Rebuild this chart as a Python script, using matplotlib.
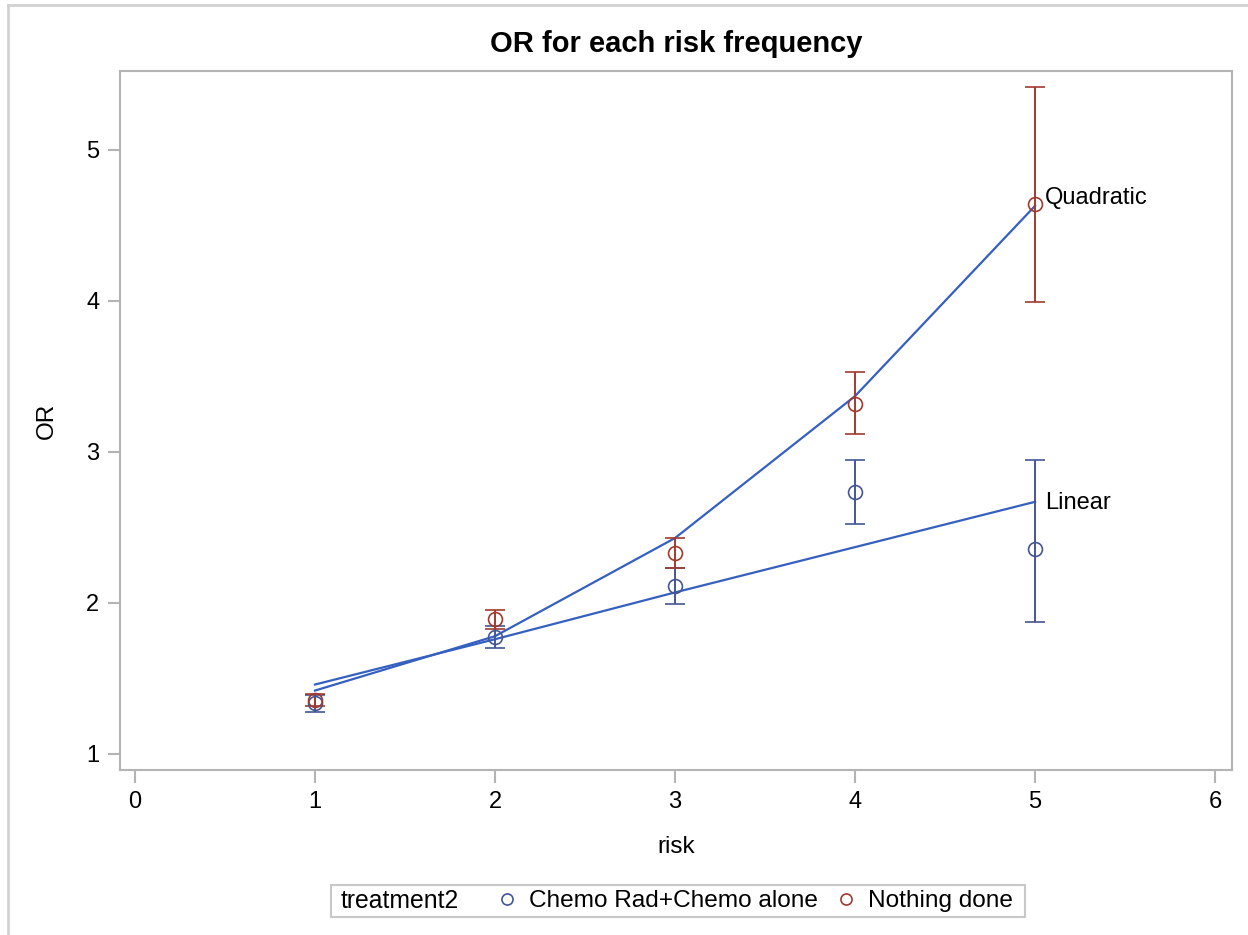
import matplotlib
matplotlib.use("Agg")
import matplotlib.pyplot as plt
from matplotlib.lines import Line2D
from matplotlib.patches import Rectangle

plt.rcParams["font.family"] = ["Liberation Sans", "DejaVu Sans"]

risk = [1, 2, 3, 4, 5]

# Chemo Rad+Chemo alone
or_chemo = [1.34, 1.773, 2.113, 2.733, 2.356]
lo_chemo = [1.28, 1.70, 1.993, 2.523, 1.876]
hi_chemo = [1.39, 1.848, 2.234, 2.948, 2.948]

# Nothing done
or_none = [1.358, 1.892, 2.333, 3.316, 4.645]
lo_none = [1.32, 1.826, 2.234, 3.121, 3.99]
hi_none = [1.397, 1.954, 2.432, 3.532, 5.42]

# fitted curves
fit_linear = [1.46, 1.76, 2.07, 2.37, 2.67]
fit_quad = [1.42, 1.78, 2.43, 3.37, 4.63]

BLUE = "#445694"
RED = "#A23A2E"
FIT = "#3560C0"
GRID = "#B4B4B4"

W, H = 1248, 935
fig = plt.figure(figsize=(W / 100, H / 100), dpi=100)

# page border (top and left only)
fig.add_artist(Line2D([8 / W, 1], [1 - 5 / H, 1 - 5 / H], color="#D2D2D2", lw=2))
fig.add_artist(Line2D([8 / W, 8 / W], [0, 1 - 5 / H], color="#D2D2D2", lw=2))

ax = fig.add_axes([120 / W, 165 / H, 1112 / W, 699 / H])

ax.plot(risk, fit_linear, color=FIT, lw=1.6, zorder=2)
ax.plot(risk, fit_quad, color=FIT, lw=1.6, zorder=2)

for y, lo, hi, c in [(or_chemo, lo_chemo, hi_chemo, BLUE), (or_none, lo_none, hi_none, RED)]:
    yerr = [[v - l for v, l in zip(y, lo)], [h - v for v, h in zip(y, hi)]]
    ax.errorbar(risk, y, yerr=yerr, fmt="o", ms=10, mfc="none", mec=c, mew=1.2,
                ecolor=c, elinewidth=1.4, capsize=7.2, capthick=1.4, zorder=3)

ax.text(5.055, fit_quad[-1] + 0.05, "Quadratic", fontsize=17, va="center", ha="left")
ax.text(5.055, fit_linear[-1] - 0.01, "Linear", fontsize=17, va="center", ha="left")

ax.set_xlim(-0.083, 6.094)
ax.set_ylim(0.894, 5.523)
ax.set_xticks([0, 1, 2, 3, 4, 5, 6])
ax.set_yticks([1, 2, 3, 4, 5])
ax.tick_params(direction="out", length=9, width=1.5, color=GRID, labelsize=17, pad=6)
for s in ax.spines.values():
    s.set_color(GRID)
    s.set_linewidth(1.5)

ax.set_title("OR for each risk frequency", fontsize=21, fontweight="bold", pad=14)
ax.set_xlabel("risk", fontsize=17.5, labelpad=17)
ax.set_ylabel("OR", fontsize=17.5, labelpad=20)

# legend box at the bottom
fig.add_artist(Rectangle((331 / W, 18 / H), 694 / W, 32 / H, transform=fig.transFigure,
                         fill=False, edgecolor="#C8C8C8", lw=1.5))
fig.text(341 / W, 34 / H, "treatment2", fontsize=17.8, va="center", ha="left")
handles = [Line2D([], [], ls="none", marker="o", ms=8, mfc="none", mec=BLUE, mew=1.2),
           Line2D([], [], ls="none", marker="o", ms=8, mfc="none", mec=RED, mew=1.2)]
fig.legend(handles, ["Chemo Rad+Chemo alone", "Nothing done"], loc="center left",
           bbox_to_anchor=(480 / W, 34 / H), ncol=2, frameon=False, fontsize=17.6,
           handlelength=1.2, handletextpad=0.3, columnspacing=0.57, borderpad=0)

fig.savefig("out.png", dpi=100)
